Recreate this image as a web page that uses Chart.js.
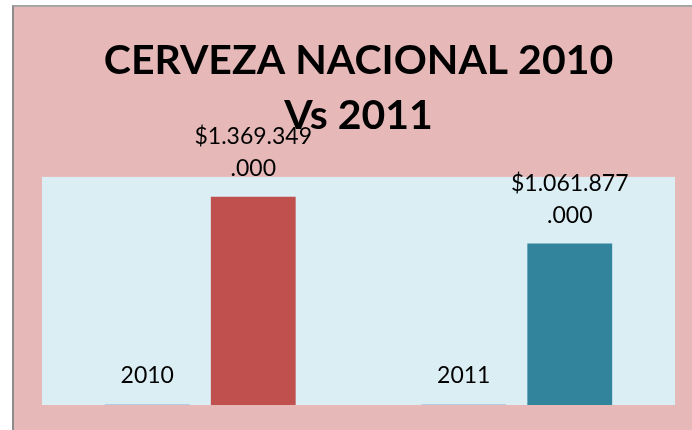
<!DOCTYPE html>
<html lang="es">
<head>
    <meta charset="UTF-8">
    <title>Cerveza nacional 2010 vs 2011</title>
    <script src="https://cdn.jsdelivr.net/npm/chart.js"></script>
    <style>
        html, body { margin: 0; padding: 0; background: #fff; }
        .marco {
            position: absolute;
            left: 12px;
            top: 5px;
            width: 678px;
            height: 423px;
            border-left: 2px solid #8c8c8c;
            border-top: 2px solid #a6a6a6;
            background: #E6B9B8;
        }
    </style>
</head>
<body>
    <div class="marco">
        <canvas id="grafico" width="678" height="423"></canvas>
    </div>

    <script>
        // datos del grafico
        const categorias = ['2010', '2011'];
        const anios = [2010, 2011];
        const ventas = [1369349000, 1061877000];
        const coloresVentas = ['#C0504D', '#31849B'];
        const tituloLineas = ['CERVEZA NACIONAL 2010', 'Vs 2011'];

        // formato $1.369.349.000, partido en dos lineas como en Excel
        function formatoPesos(v) {
            const s = '$' + v.toString().replace(/\B(?=(\d{3})+(?!\d))/g, '.');
            const corte = s.lastIndexOf('.');
            return [s.slice(0, corte), s.slice(corte)];
        }

        // fondo del area de trazado
        const fondoArea = {
            id: 'fondoArea',
            beforeDraw(chart) {
                const { ctx, chartArea: a } = chart;
                ctx.save();
                ctx.fillStyle = '#DBEEF4';
                ctx.fillRect(a.left, a.top, a.right - a.left, a.bottom - a.top);
                ctx.restore();
            }
        };

        // etiquetas de datos encima de cada barra
        const etiquetas = {
            id: 'etiquetas',
            afterDatasetsDraw(chart) {
                const ctx = chart.ctx;
                ctx.save();
                ctx.font = '23px Lato, "Open Sans", sans-serif';
                ctx.fillStyle = '#000';
                ctx.textAlign = 'center';
                ctx.textBaseline = 'middle';
                chart.data.datasets.forEach((ds, i) => {
                    chart.getDatasetMeta(i).data.forEach((bar, j) => {
                        const v = ds.data[j];
                        const lineas = i === 0 ? [String(v)] : formatoPesos(v);
                        let y = bar.y - 28;
                        for (let k = lineas.length - 1; k >= 0; k--) {
                            ctx.fillText(lineas[k], bar.x, y);
                            y -= 32;
                        }
                    });
                });
                ctx.restore();
            }
        };

        new Chart(document.getElementById('grafico'), {
            type: 'bar',
            data: {
                labels: categorias,
                datasets: [{
                    label: 'Año',
                    data: anios,
                    backgroundColor: '#B4CBE4',
                    minBarLength: 1,
                    categoryPercentage: 0.67,
                    barPercentage: 0.8
                }, {
                    label: 'Ventas',
                    data: ventas,
                    backgroundColor: coloresVentas,
                    categoryPercentage: 0.67,
                    barPercentage: 0.8
                }]
            },
            options: {
                responsive: false,
                animation: false,
                layout: { padding: { left: 28, right: 17, top: 0, bottom: 25 } },
                scales: {
                    x: { display: false },
                    y: { display: false, min: 0, max: 1500000000 }
                },
                plugins: {
                    legend: { display: false },
                    tooltip: { enabled: false },
                    title: {
                        display: true,
                        text: tituloLineas,
                        color: '#000',
                        font: { family: 'Lato, "Open Sans", sans-serif', size: 41, weight: 'bold', lineHeight: 1.34 },
                        padding: { top: 26, bottom: 34 }
                    }
                }
            },
            plugins: [fondoArea, etiquetas]
        });
    </script>
</body>
</html>
